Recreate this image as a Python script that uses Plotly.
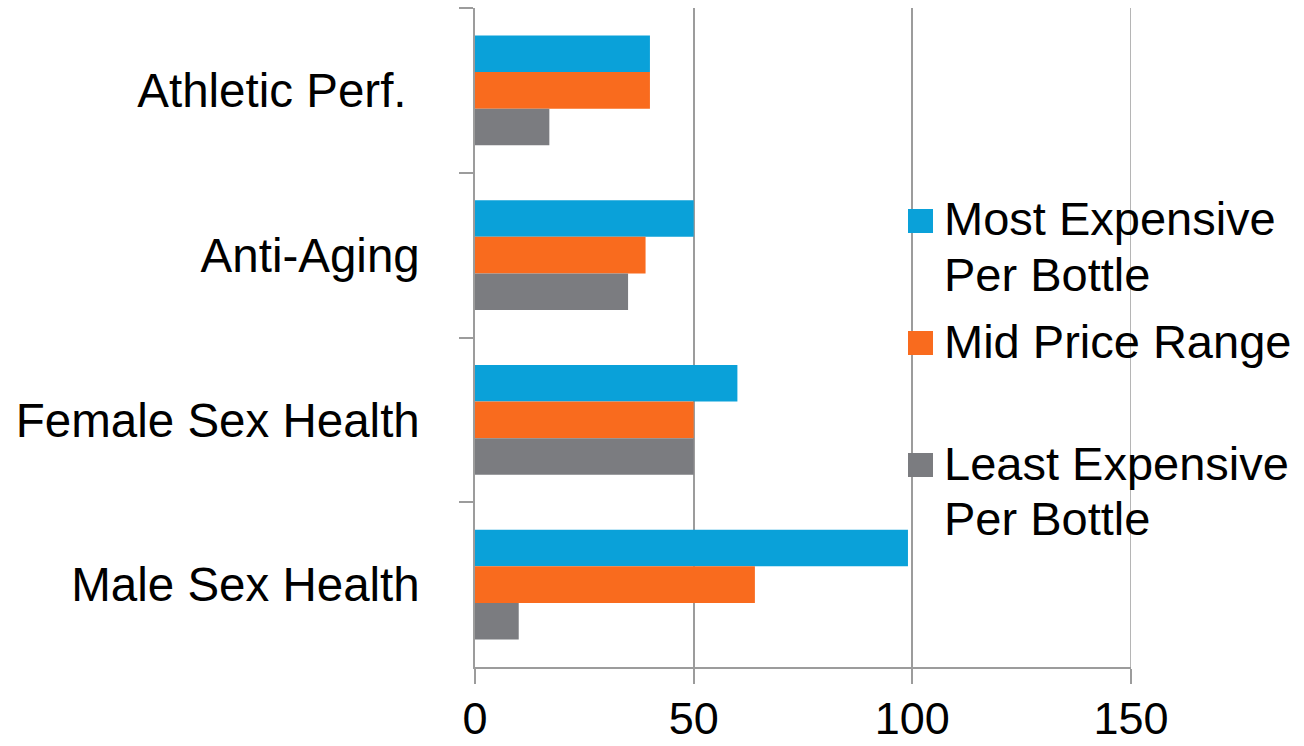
import plotly.graph_objects as go

# Product categories (top to bottom) and price-tier values
categories = ["Athletic Perf.\u00a0", "Anti-Aging", "Female Sex Health", "Male Sex Health"]
most_expensive = [40, 50, 60, 99]
mid_price = [40, 39, 50, 64]
least_expensive = [17, 35, 50, 10]

series_names = ["Most Expensive<br>Per Bottle", "Mid Price Range", "Least Expensive<br>Per Bottle"]
series_colors = ["#0AA1D9", "#F96B1E", "#7B7C80"]
x_ticks = [0, 50, 100, 150]

W, H = 1304, 746
M_L, M_R, M_T, M_B = 475, 173, 8, 79
FONT = "Liberation Sans, Arial, sans-serif"
AXIS_GREY = "#9C9C9C"

fig = go.Figure()
for name, vals, col in zip(series_names, [most_expensive, mid_price, least_expensive], series_colors):
    fig.add_trace(go.Bar(
        y=categories, x=vals, orientation="h", name=name,
        marker=dict(color=col, line=dict(width=0)),
        showlegend=False,
    ))

# pixel -> paper helpers for the legend block
pw, ph = W - M_L - M_R, H - M_T - M_B
def px(x):
    return (x - M_L) / pw
def py(y):
    return 1 - (y - M_T) / ph

shapes = [
    # right-most gridline at the end of the value range
    dict(type="line", xref="x", yref="paper", x0=x_ticks[-1], x1=x_ticks[-1], y0=0, y1=1,
         line=dict(color=AXIS_GREY, width=1.5), layer="below"),
]
annotations = []
legend_rows = [
    (series_colors[0], 209, ["Most Expensive", "Per Bottle"]),
    (series_colors[1], 331, ["Mid Price Range"]),
    (series_colors[2], 453, ["Least Expensive", "Per Bottle"]),
]
for col, top, lines in legend_rows:
    shapes.append(dict(type="rect", xref="paper", yref="paper",
                       x0=px(908), x1=px(933), y0=py(top), y1=py(top + 24),
                       fillcolor=col, line=dict(width=0), layer="above"))
    for i, line in enumerate(lines):
        annotations.append(dict(xref="paper", yref="paper", x=px(942), y=py(top + 10 + 55 * i),
                                xanchor="left", yanchor="middle", text=line, showarrow=False,
                                font=dict(family=FONT, size=47, color="#000000")))

fig.update_layout(
    width=W, height=H,
    margin=dict(l=M_L, r=M_R, t=M_T, b=M_B, pad=0),
    paper_bgcolor="white", plot_bgcolor="white",
    barmode="group", bargap=0.333, bargroupgap=0,
    font=dict(family=FONT, size=47, color="#000000"),
    shapes=shapes, annotations=annotations,
    showlegend=False,
    xaxis=dict(
        range=[0, 150], tickvals=x_ticks, ticktext=[str(v) for v in x_ticks],
        showgrid=True, gridcolor=AXIS_GREY, gridwidth=1.5,
        showline=True, linecolor=AXIS_GREY, linewidth=1.5,
        ticks="outside", ticklen=15, tickcolor=AXIS_GREY, tickwidth=1.5,
        ticklabelstandoff=-4, zeroline=False, automargin=False,
        tickfont=dict(family=FONT, size=45, color="#000000"),
    ),
    yaxis=dict(
        autorange="reversed", type="category",
        showgrid=False, showline=True, linecolor=AXIS_GREY, linewidth=1.5,
        ticks="outside", ticklen=14, tickcolor=AXIS_GREY, tickwidth=1.5,
        tickson="boundaries", ticklabelstandoff=44, automargin=False,
        tickfont=dict(family=FONT, size=47.5, color="#000000"),
    ),
)

fig.write_html("out.html")
